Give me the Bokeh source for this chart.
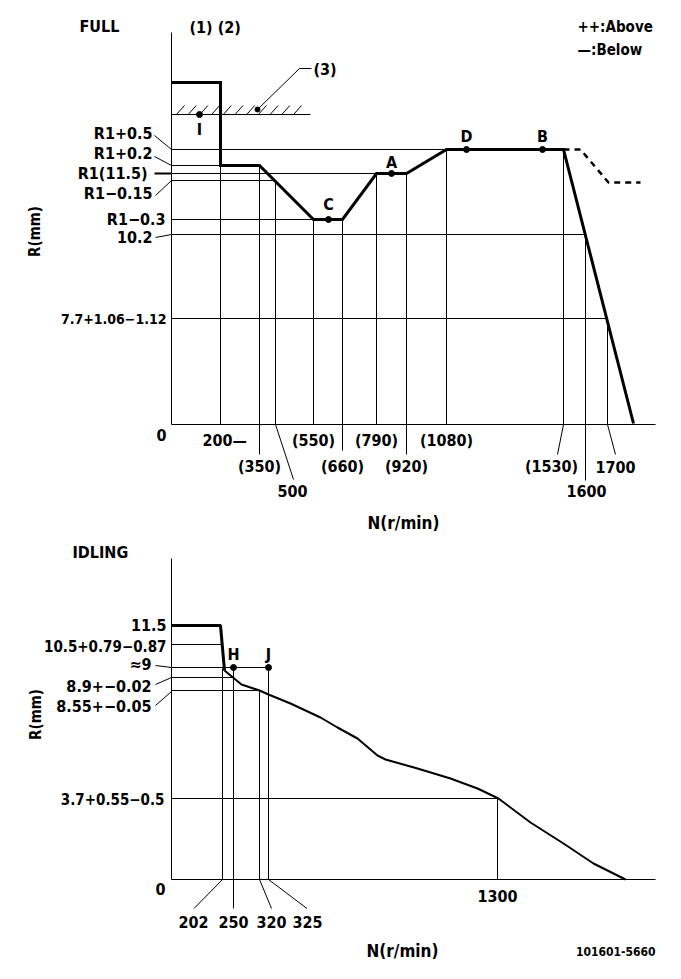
import numpy as np
from bokeh.plotting import figure
from bokeh.models import Range1d
from bokeh.core.properties import value
from bokeh.embed import file_html
from bokeh.resources import INLINE

FONT = "DejaVu Sans Condensed"

# ------------------------------------------------------------------
# DATA (schematic diagram: positions are the diagram's own scale)
# ------------------------------------------------------------------
# FULL diagram
full_title = "FULL"
full_marks = "(1) (2)"
legend_texts = ["++:Above", "—:Below"]
full_n_labels = ["200—", "(350)", "500", "(550)", "(660)", "(790)", "(920)",
                 "(1080)", "(1530)", "1600", "1700"]
full_n_pos = [220, 259, 275, 313, 342, 376, 406, 446, 563, 585, 607]
full_n_top = [165, 165, 180, 219, 219, 173, 173, 149, 149, 234, 318]
full_n_row = [0, 1, 2, 0, 1, 0, 1, 0, 1, 2, 1]
full_r_labels = ["R1+0.5", "R1+0.2", "R1(11.5)", "R1−0.15", "R1−0.3",
                 "10.2", "7.7+1.06−1.12"]
full_r_pos = [149, 165, 173, 180, 219, 234, 318]
full_r_end = [446, 220, 376, 275, 313, 585, 607]
full_curve_x = [171, 220, 220, 259, 313, 342, 376, 406, 446, 563, 633]
full_curve_y = [82, 82, 165, 165, 219, 219, 173, 173, 149, 149, 423]
full_above_x = [563, 580, 608, 640]
full_above_y = [149, 149, 182, 182]
full_pts = ["I", "C", "A", "D", "B"]
full_pts_x = [199, 328, 391, 466, 542]
full_pts_y = [114, 219, 173, 149, 149]

# IDLING diagram
idle_title = "IDLING"
idle_n_labels = ["202", "250", "320", "325", "1300"]
idle_n_pos = [222, 233, 259, 268, 497]
idle_n_top = [668, 667, 690, 667, 798]
idle_r_labels = ["11.5", "10.5+0.79−0.87", "≈9", "8.9+−0.02", "8.55+−0.05",
                 "3.7+0.55−0.5"]
idle_r_pos = [625, 644, 667, 677, 690, 798]
idle_r_end = [171, 221, 268, 233, 259, 497]
idle_thick_x = [171, 220, 224]
idle_thick_y = [625, 625, 670]
idle_curve_x = [224, 241, 250, 259, 268, 290, 320, 337, 357, 377, 385, 417,
                450, 477, 498, 530, 563, 593, 625]
idle_curve_y = [670, 684, 687, 690, 694, 703, 717, 727, 738, 755, 759, 768,
                778, 788, 798, 822, 843, 863, 879]
idle_pts = ["H", "J"]
idle_pts_x = [233, 268]
idle_pts_y = [667, 667]

axis_title_x = "N(r/min)"
axis_title_y = "R(mm)"
drawing_no = "101601-5660"

# ------------------------------------------------------------------
W, H = 665, 963
p = figure(width=W, height=H, x_range=Range1d(0, W), y_range=Range1d(H, 0),
           x_axis_type=None, y_axis_type=None, toolbar_location=None,
           output_backend="svg", min_border=0, outline_line_color=None)
p.background_fill_color = "white"
p.border_fill_color = "white"

thin = dict(x0=[], y0=[], x1=[], y1=[])


def seg(x0, y0, x1, y1):
    thin["x0"].append(x0); thin["y0"].append(y0)
    thin["x1"].append(x1); thin["y1"].append(y1)


def txt(x, y, s, size=15, align="center", bold=True, angle=0.0):
    p.text(x=[x], y=[y], text=[s], text_font=value(FONT),
           text_font_size=f"{size}px",
           text_font_style="bold" if bold else "normal",
           text_align=align, text_baseline="middle", angle=angle,
           text_color="black")


# ---------------- FULL ----------------
AX0, TOP0, BASE0, XEND = 171, 32, 424, 655
seg(AX0, TOP0, AX0, BASE0)
seg(AX0, BASE0, XEND, BASE0)
for yv, xe in zip(full_r_pos, full_r_end):
    seg(AX0, yv, xe, yv)
ext = {0: BASE0, 1: 454, 2: 480}
for lab, xv, yt, row in zip(full_n_labels, full_n_pos, full_n_top, full_n_row):
    bottom = BASE0
    if lab in ("(350)", "(660)", "(920)", "1600"):
        bottom = ext[row] - (4 if lab == "(660)" else 0)
    seg(xv, yt, xv, bottom)
# slanted leaders
seg(275, BASE0, 293, 479)
seg(563, BASE0, 557, 454)
seg(607, BASE0, 615, 454)

row_y = {0: 440, 1: 466, 2: 490}
lab_dx = {"500": 17, "(1530)": -12, "1700": 8, "1600": 1}
for lab, xv, row in zip(full_n_labels, full_n_pos, full_n_row):
    if lab == "200—":
        txt(202, row_y[row], lab, size=16, align="left")
    else:
        txt(xv + lab_dx.get(lab, 0), row_y[row], lab, size=16)
txt(161, 434, "0", size=16)

# y labels with leaders
full_r_lx = [152, 152, 147, 152, 165, 152, 166]
full_r_ly = [133, 153, 173, 193, 219, 236, 318]
full_r_sz = [16, 16, 16, 16, 16, 16, 14]
for lab, lx, ly, sz in zip(full_r_labels, full_r_lx, full_r_ly, full_r_sz):
    txt(lx, ly, lab, size=sz, align="right")
seg(154, 135, AX0, 149)
seg(154, 156, AX0, 165)
seg(155, 195, AX0, 180)
seg(155, 237, AX0, 234)
p.line([154, AX0], [173, 173], line_width=2, line_color="black")

# hatched stop line (3)
seg(AX0, 114, 310, 114)
hx = np.arange(176, 300, 11.7)
p.segment(x0=hx, y0=[114] * len(hx), x1=hx + 8, y1=[105] * len(hx),
          line_width=1, line_color="black")
seg(257, 109, 299, 68)
seg(299, 68, 311, 68)
p.scatter([257], [109], size=5, color="black")
txt(313, 69, "(3)", size=16, align="left")

# curves
p.line(full_curve_x, full_curve_y, line_width=3, line_color="black",
       line_join="miter")
p.line(full_above_x, full_above_y, line_width=2.5, line_color="black",
       line_dash="6 5")
p.scatter(full_pts_x, full_pts_y, size=6, color="black")
full_lab_dy = [15, -15, -11, -13, -13]
for lab, xv, yv, dy in zip(full_pts, full_pts_x, full_pts_y, full_lab_dy):
    txt(xv, yv + dy, lab, size=16)

txt(79, 26, full_title, size=16, align="left")
txt(189, 27, full_marks, size=16, align="left")
txt(577, 26, legend_texts[0], size=15, align="left")
txt(577, 49, legend_texts[1], size=15, align="left")
txt(34, 231, axis_title_y, size=15, angle=np.pi / 2)
txt(403, 522, axis_title_x, size=17)

# ---------------- IDLING ----------------
TOP1, BASE1 = 558, 879
seg(AX0, TOP1, AX0, BASE1)
seg(AX0, BASE1, XEND, BASE1)
for yv, xe in zip(idle_r_pos, idle_r_end):
    if xe > AX0:
        seg(AX0, yv, xe, yv)
for lab, xv, yt in zip(idle_n_labels, idle_n_pos, idle_n_top):
    seg(xv, yt, xv, 908 if lab == "250" else BASE1)
seg(222, BASE1, 193.5, 908)
seg(259, BASE1, 271, 908)
seg(268, BASE1, 306.5, 908)

idle_lab_x = [193, 233, 271, 307, 497]
idle_lab_y = [921, 921, 921, 921, 895]
for lab, lx, ly in zip(idle_n_labels, idle_lab_x, idle_lab_y):
    txt(lx, ly, lab, size=16)
txt(160, 888, "0", size=16)

idle_r_lx = [166, 166, 151, 151, 151, 164]
idle_r_ly = [624, 645, 664, 685, 705, 798]
idle_r_sz = [16, 15, 16, 16, 16, 15]
for lab, lx, ly, sz in zip(idle_r_labels, idle_r_lx, idle_r_ly, idle_r_sz):
    txt(lx, ly, lab, size=sz, align="right")
seg(155, 665, AX0, 667)
seg(155, 684, AX0, 677)
seg(155, 705, AX0, 691)

p.line(idle_thick_x, idle_thick_y, line_width=3, line_color="black")
p.line(idle_curve_x, idle_curve_y, line_width=2, line_color="black")
p.scatter(idle_pts_x, idle_pts_y, size=6, color="black")
for lab, xv, yv in zip(idle_pts, idle_pts_x, idle_pts_y):
    txt(xv, yv - 13, lab, size=16)

txt(72, 552, idle_title, size=16, align="left")
txt(35, 714, axis_title_y, size=15, angle=np.pi / 2)
txt(402, 950, axis_title_x, size=17)
txt(655, 951, drawing_no, size=12, align="right")

p.segment(x0=thin["x0"], y0=thin["y0"], x1=thin["x1"], y1=thin["y1"],
          line_width=1, line_color="black")

open("out.html", "w").write(file_html(p, INLINE))
